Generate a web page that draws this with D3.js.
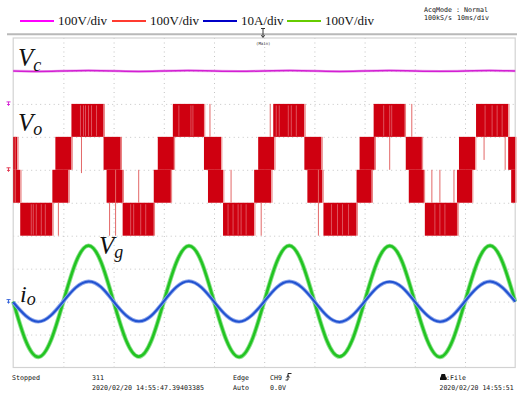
<!DOCTYPE html>
<html>
<head>
<meta charset="utf-8">
<script src="https://cdn.jsdelivr.net/npm/d3@7"></script>
<style>
  html, body { margin: 0; padding: 0; background: #fff; }
  svg { display: block; }
  .mono { font-family: 'DejaVu Sans Mono', monospace; font-size: 6.7px; fill: #111; }
  .legend { font-family: 'Liberation Serif', 'Times New Roman', serif; font-size: 13px; fill: #111; }
  .math { font-family: 'Liberation Serif', 'Times New Roman', serif; font-style: italic; fill: #111; }
</style>
</head>
<body>
<script>
'use strict';

// channel settings: Vc, Vo, io, Vg
const channelNames = ['Vc', 'Vo', 'io', 'Vg'];
const channelPerDiv = [100, 100, 10, 100];
const channelUnits = ['V', 'V', 'A', 'V'];

// sample times for the sine traces (ms)
const sampleTimes = [0, 2.5, 5, 7.5, 10, 12.5, 15, 17.5, 20, 22.5, 25, 27.5, 30, 32.5, 35, 37.5,
  40, 42.5, 45, 47.5, 50, 52.5, 55, 57.5, 60, 62.5, 65, 67.5, 70, 72.5, 75, 77.5,
  80, 82.5, 85, 87.5, 90, 92.5, 95, 97.5, 100];

// grid voltage Vg (V)
const vgValues = [0, -119, -168, -118, 1, 120, 170, 120, 0, -118, -167, -119, 0, 119, 169, 121,
  1, -118, -168, -119, 0, 120, 170, 119, 0, -119, -167, -118, 1, 120, 169, 120,
  0, -118, -168, -119, 0, 120, 170, 119, 0];

// output current io (A)
const ioValues = [-0.2, -4.3, -6.1, -4.2, 0.1, 4.3, 6.1, 4.4, 0, -4.2, -6.0, -4.3, 0.1, 4.4, 6.2, 4.3,
  0, -4.3, -6.1, -4.2, 0, 4.3, 6.1, 4.3, 0.1, -4.3, -6.2, -4.3, 0, 4.3, 6.0, 4.3,
  0, -4.2, -6.1, -4.3, 0.1, 4.3, 6.1, 4.2, 0];

// capacitor voltage Vc (V), every 5 ms
const vcTimes = [0, 5, 10, 15, 20, 25, 30, 35, 40, 45, 50, 55, 60, 65, 70, 75, 80, 85, 90, 95, 100];
const vcValues = [100, 98.5, 100, 101, 100, 98.5, 100, 101, 100, 99, 100, 101, 100, 98.5, 100, 101, 100, 99, 100, 101, 100];

// output voltage Vo: switching bands [start ms, end ms, low V, high V]
const voSegments = [
  [0, 0.8, 0, 100], [0, 1.4, -100, 0], [1.4, 7.8, -200, -100], [7.8, 11.0, -100, 0],
  [8.4, 11.6, 0, 100], [11.6, 18.0, 100, 200], [18.0, 21.4, 0, 100], [18.6, 21.8, -100, 0],
  [21.8, 28.0, -200, -100], [28.0, 31.4, -100, 0], [28.8, 32.0, 0, 100], [31.8, 38.0, 100, 200],
  [38.0, 41.4, 0, 100], [38.8, 41.8, -100, 0], [41.8, 48.0, -200, -100], [48.0, 51.4, -100, 0],
  [48.8, 52.0, 0, 100], [51.8, 58.0, 100, 200], [58.0, 61.4, 0, 100], [58.6, 61.6, -100, 0],
  [61.8, 68.4, -200, -100], [68.4, 71.4, -100, 0], [69.0, 72.0, 0, 100], [71.8, 78.0, 100, 200],
  [78.2, 81.4, 0, 100], [78.8, 81.8, -100, 0], [82.0, 88.4, -200, -100], [88.4, 91.4, -100, 0],
  [88.8, 92.0, 0, 100], [92.2, 98.6, 100, 200], [98.6, 100, 0, 100], [99.2, 100, -100, 0]
];

// gaps seen inside the outer Vo blocks (ms)
const voGaps = [3.6, 4.0, 4.6, 5.6, 6.4, 13.4, 14.0, 14.4, 15.0, 15.6, 16.6, 23.4, 24.0, 25.4, 26.4,
  33.0, 35.4, 35.8, 42.8, 43.8, 44.8, 45.4, 46.4, 52.4, 53.0, 54.8, 55.4, 56.4, 63.4, 64.6, 65.6,
  66.8, 73.8, 75.0, 75.4, 84.0, 85.0, 86.0, 94.0, 95.4, 96.4, 97.4];

// single switching spikes [time ms, from V, to V]
const voSpikes = [[0.4, 100, -100], [9.0, -100, -200], [13.6, 100, -10], [19.2, -100, -200],
  [20.4, 0, -200], [25.0, -100, 0], [39.2, 100, 200], [43.4, -100, 0], [49.4, -100, -200],
  [51.2, 100, 200], [60.8, 0, -200], [75.0, 100, 0], [79.4, 100, 200], [83.4, -100, 0],
  [85.0, -100, 0], [87.8, -100, 0], [88.6, -100, -200], [93.8, 100, 30], [98.0, 100, 0]];

// screen texts
const acqText = ['AcqMode : Normal', '100kS/s', '10ms/div'];
const footerText = ['Stopped', '311', '2020/02/20 14:55:47.39403385', 'Edge', 'Auto', 'CH9', '0.0V',
  ':File', '2020/02/20 14:55:51'];

// ---- layout ----
const width = 517;
const height = 395;
const plot = { left: 13.2, right: 515.2, top: 38, bottom: 367.5 };
const groundDiv = [3, 1, -3, -3]; // ground marker position of each channel (div)
const legendColors = ['#ff00ff', '#ff3b30', '#0000c8', '#66cc00'];

const svg = d3.select('body').append('svg')
  .attr('width', width)
  .attr('height', height);

const x = d3.scaleLinear().domain([0, 100]).range([plot.left, plot.right]);
const yDiv = d3.scaleLinear().domain([5, -5]).range([plot.top, plot.bottom]);

// value of channel ch -> screen y
function yOf(ch, v) {
  return yDiv(groundDiv[ch] + v / channelPerDiv[ch]);
}

// grid through d3 axes
const grid = svg.append('g');
grid.append('g')
  .attr('transform', `translate(0,${plot.bottom})`)
  .call(d3.axisBottom(x).tickValues(d3.range(10, 100, 10)).tickSize(-(plot.bottom - plot.top)).tickFormat(''));
grid.append('g')
  .attr('transform', `translate(${plot.left},0)`)
  .call(d3.axisLeft(yDiv).tickValues(d3.range(-4, 5, 1)).tickSize(-(plot.right - plot.left)).tickFormat(''));
grid.selectAll('.domain').remove();
grid.selectAll('.tick line')
  .attr('stroke', '#c4c4c4')
  .attr('stroke-width', 1)
  .attr('stroke-dasharray', '1,3.5');

// plot border
svg.append('rect')
  .attr('x', plot.left)
  .attr('y', plot.top)
  .attr('width', plot.right - plot.left)
  .attr('height', plot.bottom - plot.top)
  .attr('fill', 'none')
  .attr('stroke', '#d2d2d2')
  .attr('stroke-width', 1.2);

// top separator line + trigger marker
svg.append('line')
  .attr('x1', 7).attr('x2', width)
  .attr('y1', 34.3).attr('y2', 34.3)
  .attr('stroke', '#b9b9b9').attr('stroke-width', 2);
svg.append('path')
  .attr('d', 'M261,28.5h4M263,28.5v4.5M263,33v4M261.3,35.2l1.7,2.3l1.7,-2.3')
  .attr('stroke', '#222').attr('stroke-width', 0.9).attr('fill', 'none');
svg.append('text')
  .attr('x', 256).attr('y', 44.5)
  .style('font-family', 'DejaVu Sans Mono, monospace')
  .style('font-size', '4px')
  .attr('fill', '#333')
  .text('(Main)');

// ---- Vc ----
const vcLine = d3.line()
  .x((d, i) => x(vcTimes[i]))
  .y(d => yOf(0, d))
  .curve(d3.curveNatural);
svg.append('path').datum(vcValues)
  .attr('d', vcLine).attr('fill', 'none')
  .attr('stroke', '#e080e0').attr('stroke-width', 2.8).attr('opacity', 0.55);
svg.append('path').datum(vcValues)
  .attr('d', vcLine).attr('fill', 'none')
  .attr('stroke', '#d41ed4').attr('stroke-width', 1.5);

// ---- Vo ----
const voG = svg.append('g');
voG.selectAll('rect.band')
  .data(voSegments)
  .enter()
  .append('rect')
  .attr('class', 'band')
  .attr('x', d => x(d[0]))
  .attr('width', d => x(d[1]) - x(d[0]))
  .attr('y', d => yOf(1, d[3]))
  .attr('height', d => yOf(1, d[2]) - yOf(1, d[3]))
  .attr('fill', '#cf0010');

// light edges at the band borders
voG.selectAll('line.edge')
  .data(voSegments)
  .enter()
  .append('line')
  .attr('class', 'edge')
  .attr('x1', d => x(d[1]) + 0.8)
  .attr('x2', d => x(d[1]) + 0.8)
  .attr('y1', d => yOf(1, d[3]))
  .attr('y2', d => yOf(1, d[2]))
  .attr('stroke', '#e87a7a')
  .attr('stroke-width', 1);

// gaps inside the outer blocks
voG.selectAll('line.gap')
  .data(voGaps.map(t => {
    const seg = voSegments.find(s => Math.abs(s[2]) + Math.abs(s[3]) === 300 && t >= s[0] && t <= s[1]);
    return { t, seg };
  }).filter(d => d.seg))
  .enter()
  .append('line')
  .attr('class', 'gap')
  .attr('x1', d => x(d.t)).attr('x2', d => x(d.t))
  .attr('y1', d => yOf(1, d.seg[3]) + 1.5)
  .attr('y2', d => yOf(1, d.seg[2]) - 1)
  .attr('stroke', '#fff')
  .attr('stroke-opacity', 0.4)
  .attr('stroke-width', 0.8);

voG.selectAll('line.spike')
  .data(voSpikes)
  .enter()
  .append('line')
  .attr('class', 'spike')
  .attr('x1', d => x(d[0])).attr('x2', d => x(d[0]))
  .attr('y1', d => yOf(1, d[1]))
  .attr('y2', d => yOf(1, d[2]))
  .attr('stroke', '#e36868')
  .attr('stroke-width', 1);

// ---- Vg (green) and io (blue) ----
function traceLine(ch, values) {
  return d3.line()
    .x((d, i) => x(sampleTimes[i]))
    .y(d => yOf(ch, d))
    .curve(d3.curveNatural)(values);
}

svg.append('path')
  .attr('d', traceLine(3, vgValues)).attr('fill', 'none')
  .attr('stroke', '#8fe08f').attr('stroke-width', 4.4);
svg.append('path')
  .attr('d', traceLine(3, vgValues)).attr('fill', 'none')
  .attr('stroke', '#22c422').attr('stroke-width', 2.6);

svg.append('path')
  .attr('d', traceLine(2, ioValues)).attr('fill', 'none')
  .attr('stroke', '#8aa4ec').attr('stroke-width', 3.8);
svg.append('path')
  .attr('d', traceLine(2, ioValues)).attr('fill', 'none')
  .attr('stroke', '#2152d0').attr('stroke-width', 2);

// ground markers at the left edge
const markerColors = ['#d41ed4', '#e0304a', '#2a5ad8'];
[0, 1, 2].forEach(ch => {
  svg.append('path')
    .attr('transform', `translate(0,${yOf(ch, 0)})`)
    .attr('d', 'M6.5,-2h4M8.5,-2v4M7,0.6h3')
    .attr('stroke', markerColors[ch])
    .attr('stroke-width', 0.9)
    .attr('fill', 'none');
});

// ---- trace labels ----
function mathLabel(xPos, yPos, main, sub, mainSize, subSize, dy) {
  const t = svg.append('text')
    .attr('class', 'math')
    .attr('x', xPos)
    .attr('y', yPos)
    .style('font-size', mainSize + 'px');
  t.append('tspan').text(main);
  t.append('tspan').attr('dy', dy).style('font-size', subSize + 'px').text(sub);
}
mathLabel(18, 66, 'V', channelNames[0].slice(1), 25, 18, 5);
mathLabel(18, 131, 'V', channelNames[1].slice(1), 25, 18, 4);
mathLabel(99, 254, 'V', channelNames[3].slice(1), 25, 18, 4);
mathLabel(20, 302, 'i', channelNames[2].slice(1), 24, 18, 3);

// ---- legend ----
const legendX = [20, 112, 203, 287];
legendColors.forEach((c, i) => {
  svg.append('line')
    .attr('x1', legendX[i]).attr('x2', legendX[i] + 34)
    .attr('y1', 21).attr('y2', 21)
    .attr('stroke', c).attr('stroke-width', 1.8);
  svg.append('text')
    .attr('class', 'legend')
    .attr('x', legendX[i] + 38)
    .attr('y', 24.5)
    .text(`${channelPerDiv[i]}${channelUnits[i]}/div`);
});

// ---- small scope texts ----
function mono(xPos, yPos, str, charW) {
  svg.append('text')
    .attr('class', 'mono')
    .attr('x', xPos)
    .attr('y', yPos)
    .attr('textLength', str.length * (charW || 4.0))
    .attr('lengthAdjust', 'spacingAndGlyphs')
    .text(str);
}
mono(424, 12.2, acqText[0], 4.0);
mono(424, 19.8, acqText[1], 4.0);
mono(457, 19.8, acqText[2], 4.0);

mono(12, 380, footerText[0]);
mono(92, 380, footerText[1]);
mono(92, 390, footerText[2]);
mono(233, 380, footerText[3]);
mono(233, 390, footerText[4]);
mono(270, 380, footerText[5]);
mono(270, 390, footerText[6]);
mono(446, 380, footerText[7]);
mono(439.5, 390, footerText[8], 3.9);

// trigger edge symbol and file icon
svg.append('path')
  .attr('d', 'M285.5,380h2.5v-6.5h3.5M286.4,377.5l1.6,-2l1.6,2')
  .attr('stroke', '#111').attr('stroke-width', 0.9).attr('fill', 'none');
svg.append('path')
  .attr('d', 'M440,380h6.5l0.5,-2.5h-1l-1,-3.5h-3.5l-1,3.5h-0.5z')
  .attr('fill', '#111');
</script>
</body>
</html>
